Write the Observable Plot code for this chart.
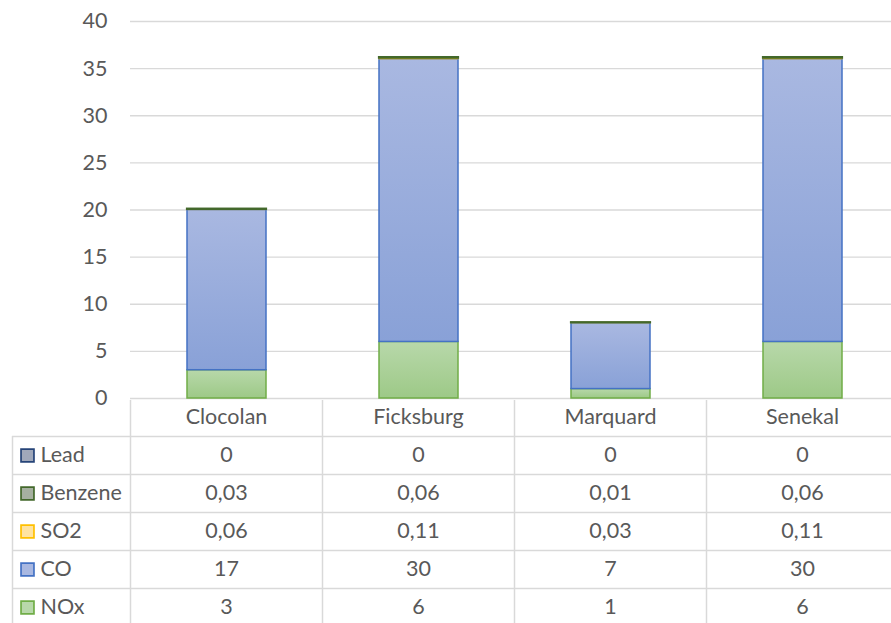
<!DOCTYPE html>
<html>
<head>
<meta charset="utf-8">
<script src="https://cdn.jsdelivr.net/npm/d3@7"></script>
<script src="https://cdn.jsdelivr.net/npm/@observablehq/plot@0.6"></script>
<style>
  html, body { margin: 0; padding: 0; background: #fff; }
  #chart svg { display: block; overflow: visible; }
</style>
</head>
<body>
<div id="chart"></div>
<script>
// ---- data ----
const cities = ["Clocolan", "Ficksburg", "Marquard", "Senekal"];
const seriesNames = ["NOx", "CO", "SO2", "Benzene", "Lead"]; // bottom to top of stack
const NOx = [3, 6, 1, 6];
const CO = [17, 30, 7, 30];
const SO2 = [0.06, 0.11, 0.03, 0.11];
const Benzene = [0.03, 0.06, 0.01, 0.06];
const Lead = [0, 0, 0, 0];
const tableOrder = ["Lead", "Benzene", "SO2", "CO", "NOx"]; // table rows top to bottom
const yTicks = [0, 5, 10, 15, 20, 25, 30, 35, 40];

const values = {NOx, CO, SO2, Benzene, Lead};
const styles = {
  NOx: {stroke: "#70ad47", top: "#b8d8aa", bottom: "#9dc987", width: 1.5},
  CO: {stroke: "#4472c4", top: "#a9b8e1", bottom: "#89a1d7", width: 1.5},
  SO2: {stroke: "#ffc000", top: "#ffe3a0", bottom: "#ffd36f", width: 1.2},
  Benzene: {stroke: "#43682b", top: "#a6b0a0", bottom: "#8f9c88", width: 2.2},
  Lead: {stroke: "#264478", top: "#a0a8ba", bottom: "#8591a8", width: 1.5}
};

const stackData = [];
for (const s of seriesNames) {
  cities.forEach((c, i) => stackData.push({city: c, series: s, value: values[s][i]}));
}

const FONT = "Lato, 'Open Sans', sans-serif";
const FS = 21.5;
const TEXT = "#595959";
const GRID = "#d9d9d9";

// ---- chart ----
const chart = Plot.plot({
  width: 891,
  height: 400,
  marginLeft: 130,
  marginRight: 0,
  marginTop: 21,
  marginBottom: 2,
  style: {fontFamily: FONT, fontSize: FS + "px", color: TEXT, background: "transparent", overflow: "visible"},
  x: {domain: cities, range: [130, 898], paddingInner: 0.59, paddingOuter: 0.295, axis: null},
  y: {domain: [0, 40], axis: null},
  color: {type: "identity"},
  marks: [
    Plot.ruleY(yTicks, {stroke: GRID, strokeWidth: 1.3}),
    Plot.axisY(yTicks, {tickSize: 0, tickPadding: 23, fill: TEXT, fontSize: FS, label: null}),
    Plot.barY(stackData.filter(d => d.value > 0), {
      x: "city",
      y: "value",
      fill: d => `url(#grad-${d.series})`,
      stroke: d => styles[d.series].stroke,
      strokeWidth: d => styles[d.series].width,
      inset: 0
    })
  ]
});

const defs = d3.select(chart).insert("defs", ":first-child");
for (const s of seriesNames) {
  const g = defs.append("linearGradient").attr("id", `grad-${s}`)
    .attr("x1", 0).attr("y1", 0).attr("x2", 0).attr("y2", 1);
  g.append("stop").attr("offset", "0%").attr("stop-color", styles[s].top);
  g.append("stop").attr("offset", "100%").attr("stop-color", styles[s].bottom);
}

// ---- data table ----
const headerCells = cities.map((c, i) => ({col: i + 0.5, row: 0.5, text: c}));
const valueCells = [];
tableOrder.forEach((s, r) => {
  cities.forEach((c, i) => {
    valueCells.push({col: i + 0.5, row: r + 1.5, text: String(values[s][i]).replace(".", ",")});
  });
});
const legendRows = tableOrder.map((s, r) => ({series: s, row: r + 1.5}));
const rowLines = d3.range(1, tableOrder.length + 1);
const colLines = d3.range(0, cities.length);

const table = Plot.plot({
  width: 891,
  height: 223,
  marginLeft: 12,
  marginRight: 0,
  marginTop: 0,
  marginBottom: 0,
  style: {fontFamily: FONT, fontSize: FS + "px", color: TEXT, background: "transparent"},
  x: {domain: [0, cities.length], range: [130, 898], axis: null},
  y: {domain: [0, tableOrder.length + 1], range: [-2, 226], axis: null},
  marks: [
    Plot.ruleY(rowLines, {stroke: GRID, strokeWidth: 1.5}),
    Plot.ruleX(colLines, {stroke: GRID, strokeWidth: 1.5}),
    Plot.ruleX([0], {y1: 1, y2: tableOrder.length + 1, dx: -118, stroke: GRID, strokeWidth: 1.5}),
    Plot.text(headerCells, {x: "col", y: "row", text: "text", fill: TEXT, fontSize: FS}),
    Plot.text(valueCells, {x: "col", y: "row", text: "text", fill: TEXT, fontSize: FS}),
    Plot.dot(legendRows, {
      y: "row", frameAnchor: "left", dx: 15, symbol: "square", r: 7.3,
      fill: d => styles[d.series].top, stroke: d => styles[d.series].stroke, strokeWidth: 1.7
    }),
    Plot.text(legendRows, {
      y: "row", frameAnchor: "left", dx: 28, text: "series", textAnchor: "start", fill: TEXT, fontSize: FS
    })
  ]
});

document.getElementById("chart").append(chart, table);
</script>
</body>
</html>
